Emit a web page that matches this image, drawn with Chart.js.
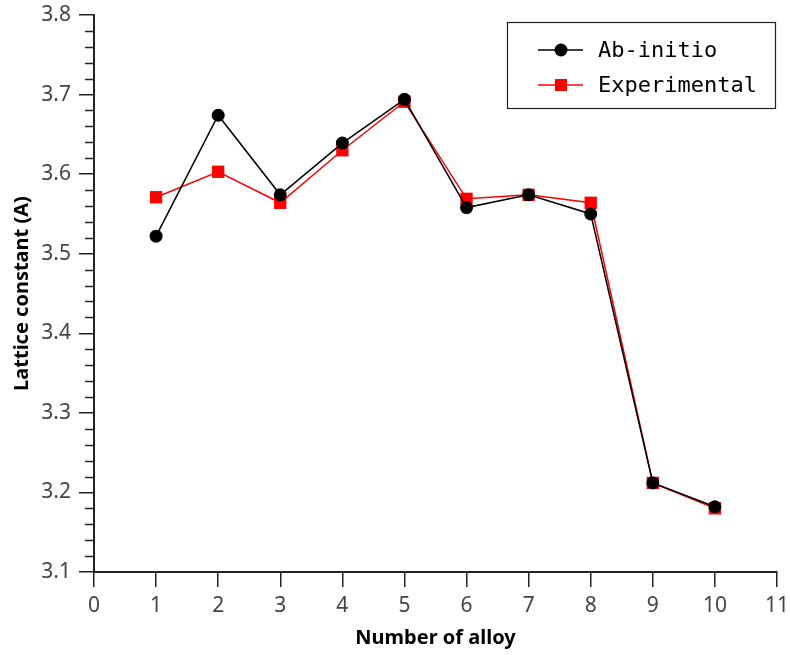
<!DOCTYPE html>
<html>
<head>
<meta charset="utf-8">
<script src="https://cdn.jsdelivr.net/npm/chart.js@4"></script>
<style>
  body { margin: 0; background: #fff; }
  #wrap { width: 790px; height: 655px; }
</style>
</head>
<body>
<div id="wrap"><canvas id="c"></canvas></div>
<script>
// values
const alloys = [1, 2, 3, 4, 5, 6, 7, 8, 9, 10];
const abInitio = [3.522, 3.674, 3.574, 3.639, 3.694, 3.558, 3.574, 3.550, 3.212, 3.182];
const experimental = [3.571, 3.603, 3.564, 3.630, 3.691, 3.569, 3.574, 3.564, 3.212, 3.180];
const seriesNames = ['Ab-initio', 'Experimental'];

const tickFont = { family: 'Noto Sans', size: 21 };
const titleFont = { family: 'Noto Sans', size: 20, weight: 'bold' };

// minor ticks on the y axis + boxed legend inside the plot
const extras = {
  id: 'extras',
  afterDraw(chart) {
    const ctx = chart.ctx;
    const y = chart.scales.y;
    ctx.save();
    ctx.strokeStyle = '#222';
    ctx.lineWidth = 1.5;
    for (let i = 0; i <= 35; i++) {
      if (i % 5 === 0) continue;
      const py = Math.round(y.getPixelForValue(3.1 + i * 0.02)) + 0.5;
      ctx.beginPath();
      ctx.moveTo(y.right - 9, py);
      ctx.lineTo(y.right, py);
      ctx.stroke();
    }
    // legend
    const a = chart.chartArea;
    const bx = 507, by = 22, bw = a.right - 2 - bx, bh = 86;
    ctx.fillStyle = '#fff';
    ctx.fillRect(bx, by, bw, bh);
    ctx.strokeStyle = '#222';
    ctx.lineWidth = 1.2;
    ctx.strokeRect(bx + 0.5, by + 0.5, bw, bh);
    ctx.font = '22px "DejaVu Sans Mono", "Liberation Mono", monospace';
    ctx.textBaseline = 'middle';
    chart.data.datasets.forEach((ds, i) => {
      const ly = i === 0 ? 50 : 85;
      ctx.strokeStyle = ds.borderColor;
      ctx.lineWidth = 1.5;
      ctx.beginPath();
      ctx.moveTo(538, ly);
      ctx.lineTo(583, ly);
      ctx.stroke();
      ctx.fillStyle = ds.backgroundColor;
      if (ds.pointStyle === 'circle') {
        ctx.beginPath();
        ctx.arc(561, ly, 6.5, 0, Math.PI * 2);
        ctx.fill();
      } else {
        ctx.fillRect(555, ly - 6, 12, 12);
      }
      ctx.fillStyle = '#000';
      ctx.fillText(ds.label, 598, ly + 1);
    });
    ctx.restore();
  }
};

new Chart(document.getElementById('c'), {
  type: 'line',
  data: {
    datasets: [
      {
        label: seriesNames[0],
        data: alloys.map((x, i) => ({ x: x, y: abInitio[i] })),
        borderColor: '#000',
        backgroundColor: '#000',
        borderWidth: 1.5,
        pointStyle: 'circle',
        pointRadius: 6.5,
        pointBorderWidth: 0,
        tension: 0
      },
      {
        label: seriesNames[1],
        data: alloys.map((x, i) => ({ x: x, y: experimental[i] })),
        borderColor: '#ff0000',
        backgroundColor: '#ff0000',
        borderWidth: 1.5,
        pointStyle: 'rect',
        pointRadius: 8.7,
        pointBorderWidth: 0,
        tension: 0
      }
    ]
  },
  options: {
    responsive: true,
    maintainAspectRatio: false,
    animation: false,
    layout: { padding: { top: 15, right: 13, left: 0, bottom: 0 } },
    plugins: { legend: { display: false }, tooltip: { enabled: false } },
    scales: {
      x: {
        type: 'linear',
        min: 0,
        max: 11,
        ticks: { stepSize: 1, font: tickFont, color: '#444', padding: 6, maxRotation: 0 },
        grid: { drawOnChartArea: false, tickLength: 15, color: '#222', lineWidth: 1.5 },
        border: { color: '#222', width: 2 },
        title: { display: true, text: 'Number of alloy', font: titleFont, color: '#000', padding: { top: 0, bottom: 5 } },
        afterFit(s) { s.height = 83; s.paddingLeft = 0; s.paddingRight = 0; }
      },
      y: {
        min: 3.1,
        max: 3.8,
        ticks: {
          stepSize: 0.1, font: tickFont, color: '#444', padding: 8,
          callback: v => v.toFixed(1)
        },
        grid: { drawOnChartArea: false, tickLength: 15, color: '#222', lineWidth: 1.5 },
        border: { color: '#222', width: 2 },
        title: { display: true, text: 'Lattice constant (A)', font: titleFont, color: '#000', padding: { top: 10, bottom: 0 } },
        afterFit(s) { s.width = 94; s.paddingTop = 0; s.paddingBottom = 0; }
      }
    }
  },
  plugins: [extras]
});
</script>
</body>
</html>
